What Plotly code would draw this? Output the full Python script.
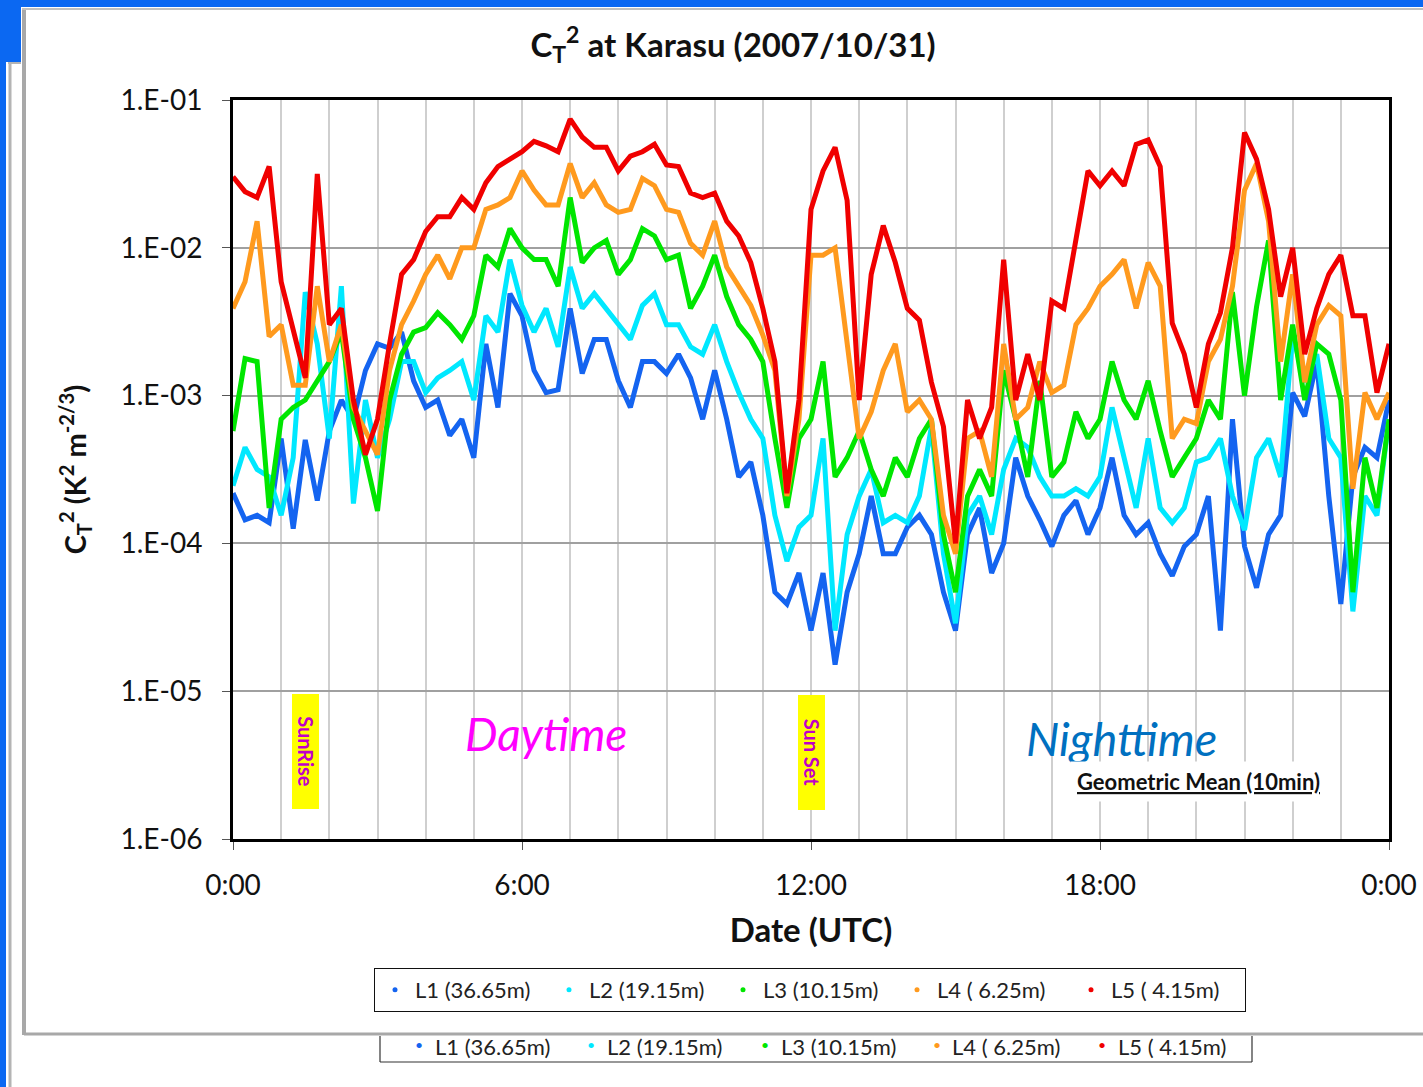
import plotly.graph_objects as go

# ---------------- data ----------------
# time of day in hours (UTC), 15-minute steps
hours = [i * 0.25 for i in range(97)]

# log10(Ct^2) for each sensor level
L1_log = [-3.66, -3.84, -3.81, -3.86, -3.29, -3.90, -3.30, -3.71, -3.24, -3.03, -3.16, -2.83, -2.65,
          -2.68, -2.57, -2.90, -3.08, -3.03, -3.27, -3.16, -3.42, -2.65, -3.08, -2.31, -2.46, -2.83,
          -2.98, -2.96, -2.41, -2.85, -2.62, -2.62, -2.90, -3.08, -2.77, -2.77, -2.85, -2.72, -2.88,
          -3.16, -2.83, -3.16, -3.55, -3.45, -3.81, -4.33, -4.41, -4.20, -4.59, -4.20, -4.82, -4.33,
          -4.07, -3.68, -4.07, -4.07, -3.89, -3.81, -3.94, -4.33, -4.59, -3.94, -3.76, -4.20, -4.00,
          -3.42, -3.68, -3.84, -4.02, -3.81, -3.71, -3.94, -3.76, -3.42, -3.81, -3.94, -3.86, -4.07,
          -4.22, -4.02, -3.94, -3.68, -4.59, -3.16, -4.02, -4.30, -3.94, -3.81, -2.98, -3.14, -2.77,
          -3.68, -4.41, -3.55, -3.35, -3.42, -3.03]
L2_log = [-3.61, -3.35, -3.50, -3.55, -3.81, -3.42, -2.30, -2.65, -3.29, -2.26, -3.73, -3.03, -3.42,
          -3.16, -2.77, -2.77, -2.98, -2.88, -2.83, -2.77, -3.03, -2.46, -2.57, -2.08, -2.39, -2.57,
          -2.41, -2.67, -2.13, -2.41, -2.31, -2.41, -2.52, -2.62, -2.39, -2.31, -2.52, -2.52, -2.67,
          -2.72, -2.52, -2.77, -2.98, -3.16, -3.29, -3.81, -4.12, -3.89, -3.81, -3.29, -4.59, -3.94,
          -3.68, -3.50, -3.86, -3.81, -3.86, -3.68, -3.21, -4.07, -4.54, -3.81, -3.68, -3.94, -3.50,
          -3.29, -3.35, -3.55, -3.68, -3.68, -3.63, -3.68, -3.55, -3.08, -3.42, -3.76, -3.29, -3.76,
          -3.86, -3.76, -3.45, -3.42, -3.29, -3.68, -3.91, -3.42, -3.29, -3.55, -2.59, -2.91, -2.72,
          -3.29, -3.42, -4.46, -3.68, -3.81, -3.16]
L3_log = [-3.24, -2.75, -2.77, -3.76, -3.16, -3.08, -3.03, -2.90, -2.77, -2.57, -3.16, -3.42, -3.78,
          -3.03, -2.72, -2.57, -2.54, -2.44, -2.52, -2.62, -2.46, -2.05, -2.13, -1.87, -2.00, -2.08,
          -2.08, -2.26, -1.66, -2.10, -2.00, -1.95, -2.18, -2.08, -1.87, -1.92, -2.08, -2.05, -2.41,
          -2.26, -2.05, -2.33, -2.52, -2.62, -2.77, -3.29, -3.76, -3.29, -3.16, -2.77, -3.55, -3.42,
          -3.24, -3.50, -3.68, -3.42, -3.55, -3.29, -3.16, -3.94, -4.33, -3.68, -3.50, -3.68, -2.83,
          -3.16, -3.55, -2.90, -3.55, -3.45, -3.11, -3.29, -3.16, -2.77, -3.03, -3.16, -2.90, -3.24,
          -3.55, -3.42, -3.29, -3.03, -3.16, -2.30, -3.00, -2.40, -1.95, -3.03, -2.52, -3.03, -2.65,
          -2.72, -3.03, -4.33, -3.42, -3.76, -3.16]
L4_log = [-2.41, -2.23, -1.82, -2.60, -2.52, -2.93, -2.93, -2.26, -2.77, -2.52, -3.08, -3.24, -3.40,
          -2.83, -2.52, -2.36, -2.18, -2.05, -2.21, -2.00, -2.00, -1.74, -1.71, -1.66, -1.48, -1.61,
          -1.71, -1.71, -1.43, -1.66, -1.56, -1.71, -1.76, -1.74, -1.53, -1.58, -1.74, -1.76, -1.97,
          -2.05, -1.82, -2.13, -2.26, -2.39, -2.59, -2.83, -3.68, -3.16, -2.05, -2.05, -2.00, -2.65,
          -3.29, -3.11, -2.83, -2.65, -3.11, -3.03, -3.16, -3.81, -4.07, -3.29, -3.24, -3.55, -2.65,
          -3.16, -3.08, -2.77, -2.98, -2.93, -2.52, -2.41, -2.26, -2.18, -2.08, -2.41, -2.10, -2.26,
          -3.29, -3.16, -3.19, -2.77, -2.62, -2.26, -1.61, -1.43, -1.82, -2.77, -2.18, -2.91, -2.52,
          -2.39, -2.46, -3.63, -2.98, -3.16, -2.98]
L5_log = [-1.52, -1.62, -1.66, -1.45, -2.23, -2.57, -2.88, -1.50, -2.52, -2.41, -3.03, -3.40, -3.16,
          -2.65, -2.18, -2.08, -1.89, -1.79, -1.79, -1.66, -1.74, -1.56, -1.45, -1.40, -1.35, -1.28,
          -1.31, -1.35, -1.13, -1.25, -1.32, -1.32, -1.48, -1.38, -1.35, -1.30, -1.44, -1.45, -1.63,
          -1.66, -1.63, -1.82, -1.92, -2.10, -2.41, -2.77, -3.66, -3.03, -1.74, -1.48, -1.32, -1.68,
          -3.03, -2.18, -1.85, -2.10, -2.41, -2.49, -2.91, -3.21, -4.00, -3.03, -3.29, -3.08, -2.08,
          -3.03, -2.72, -3.03, -2.36, -2.41, -1.95, -1.48, -1.58, -1.48, -1.58, -1.30, -1.27, -1.45,
          -2.51, -2.72, -3.08, -2.65, -2.44, -2.00, -1.22, -1.40, -1.74, -2.33, -2.00, -2.72, -2.41,
          -2.18, -2.05, -2.46, -2.46, -2.98, -2.65]

series_names = ["L1 (36.65m)", "L2 (19.15m)", "L3 (10.15m)", "L4 ( 6.25m)", "L5 ( 4.15m)"]
series_logs = [L1_log, L2_log, L3_log, L4_log, L5_log]
series_colors = ["#1464F0", "#00E8FF", "#00E600", "#FF9A1E", "#F00000"]

x_tickvals = [0, 6, 12, 18, 24]
x_ticktext = ["0:00", "6:00", "12:00", "18:00", "0:00"]
y_tickvals = [1e-6, 1e-5, 1e-4, 1e-3, 1e-2, 1e-1]
y_ticktext = ["1.E-06", "1.E-05", "1.E-04", "1.E-03", "1.E-02", "1.E-01"]

# ---------------- layout helpers (pixel -> paper) ----------------
W, H = 1423, 1087
L, R, T, B = 233, 34, 100, 248
PW, PH = W - L - R, H - T - B


def px(x):
    return (x - L) / PW


def py(y):
    return (H - B - y) / PH


FONT = "Lato, Carlito, Calibri, 'Open Sans', sans-serif"

fig = go.Figure()

for name, logs, col in zip(series_names, series_logs, series_colors):
    fig.add_trace(go.Scatter(
        x=hours, y=[10 ** v for v in logs], mode="lines", name=name,
        line=dict(color=col, width=5), showlegend=False, hoverinfo="skip"))

# legend entries shown as small dots
for name, col in zip(series_names, series_colors):
    fig.add_trace(go.Scatter(
        x=[None], y=[None], mode="markers", name=name,
        marker=dict(color=col, size=5), showlegend=True))

shapes = []
blue = "#0B68F2"
# window frame (screenshot borders)
shapes.append(dict(type="rect", xref="paper", yref="paper", x0=px(0), x1=px(W), y0=py(0), y1=py(7),
                   fillcolor=blue, line=dict(width=0), layer="above"))
shapes.append(dict(type="rect", xref="paper", yref="paper", x0=px(0), x1=px(21), y0=py(0), y1=py(62),
                   fillcolor=blue, line=dict(width=0), layer="above"))
shapes.append(dict(type="rect", xref="paper", yref="paper", x0=px(0), x1=px(6), y0=py(0), y1=py(H),
                   fillcolor=blue, line=dict(width=0), layer="above"))
shapes.append(dict(type="line", xref="paper", yref="paper", x0=px(10), x1=px(10), y0=py(62), y1=py(H),
                   line=dict(color="#b4b4b4", width=3), layer="above"))
shapes.append(dict(type="line", xref="paper", yref="paper", x0=px(8), x1=px(21), y0=py(63), y1=py(63),
                   line=dict(color="#b4b4b4", width=2), layer="above"))
shapes.append(dict(type="line", xref="paper", yref="paper", x0=px(24), x1=px(24), y0=py(9), y1=py(1035),
                   line=dict(color="#a8a8a8", width=4), layer="above"))
shapes.append(dict(type="line", xref="paper", yref="paper", x0=px(22), x1=px(W), y0=py(9), y1=py(9),
                   line=dict(color="#c0c0c0", width=2), layer="above"))
shapes.append(dict(type="line", xref="paper", yref="paper", x0=px(24), x1=px(W), y0=py(1034), y1=py(1034),
                   line=dict(color="#a8a8a8", width=3), layer="above"))
# second (partly hidden) legend box below
for (xa, ya, xb, yb) in [(380, 1036, 380, 1062), (1252, 1036, 1252, 1062), (380, 1062, 1252, 1062)]:
    shapes.append(dict(type="line", xref="paper", yref="paper", x0=px(xa), x1=px(xb), y0=py(ya), y1=py(yb),
                       line=dict(color="#333333", width=1.2), layer="above"))

annotations = []
# Sunrise / Sunset tags
for label, xc, yc in [("SunRise", 305.5, 751), ("Sun Set", 811.5, 752)]:
    annotations.append(dict(xref="paper", yref="paper", x=px(xc), y=py(yc), text="<b>" + label + "</b>",
                            showarrow=False, textangle=90, width=114, height=26,
                            bgcolor="#FFFF00", borderpad=0,
                            font=dict(family=FONT, size=20, color="#C000C8"),
                            xanchor="center", yanchor="middle"))
annotations.append(dict(xref="paper", yref="paper", x=px(546), y=py(733), text="<i>Daytime</i>",
                        showarrow=False, font=dict(family=FONT, size=46, color="#FF00FF"),
                        xanchor="center", yanchor="middle"))
annotations.append(dict(xref="paper", yref="paper", x=px(1121), y=py(738), text="<i>Nighttime</i>",
                        showarrow=False, font=dict(family=FONT, size=47, color="#0070C0"),
                        xanchor="center", yanchor="middle"))
annotations.append(dict(xref="paper", yref="paper", x=px(1198), y=py(781),
                        text="<b><u>Geometric Mean (10min)</u></b>",
                        showarrow=False, bgcolor="white", borderpad=6,
                        font=dict(family=FONT, size=22, color="#111111"),
                        xanchor="center", yanchor="middle"))
# duplicate legend texts (screenshot artifact)
dup_dot_x = [419, 591, 765, 937, 1102]
dup_txt_x = [433, 605, 779, 950, 1116]
for name, col, xd, xt in zip(series_names, series_colors, dup_dot_x, dup_txt_x):
    annotations.append(dict(xref="paper", yref="paper", x=px(xd), y=py(1044), text="•",
                            showarrow=False, font=dict(family=FONT, size=14, color=col),
                            xanchor="center", yanchor="middle"))
    annotations.append(dict(xref="paper", yref="paper", x=px(xt), y=py(1046), text=name,
                            showarrow=False, font=dict(family=FONT, size=22, color="#222222"),
                            xanchor="left", yanchor="middle"))

fig.update_layout(
    width=W, height=H, autosize=False,
    margin=dict(l=L, r=R, t=T, b=B, autoexpand=False),
    paper_bgcolor="white", plot_bgcolor="white",
    font=dict(family=FONT, color="#111111"),
    title=dict(text="<b>C<sub>T</sub><sup>2</sup> at Karasu (2007/10/31)</b>",
               font=dict(family=FONT, size=33, color="#111111"),
               xref="paper", x=px(733), xanchor="center",
               yref="container", y=1 - 45 / H, yanchor="middle"),
    xaxis=dict(range=[0, 24], tickvals=x_tickvals, ticktext=x_ticktext, automargin=False,
               showgrid=True, gridcolor="#cfcfcf", gridwidth=1.5,
               minor=dict(dtick=1, tick0=0, showgrid=True, gridcolor="#cfcfcf", gridwidth=1.5),
               ticks="outside", ticklen=8, tickcolor="#555555", tickwidth=1,
               ticklabelstandoff=11,
               tickfont=dict(family=FONT, size=28, color="#111111"),
               showline=True, linecolor="black", linewidth=3, mirror=True, zeroline=False,
               title=dict(text="<b>Date (UTC)</b>", font=dict(family=FONT, size=33, color="#111111"),
                          standoff=20)),
    yaxis=dict(type="log", range=[-6, -1], tickvals=y_tickvals, ticktext=y_ticktext, automargin=False,
               showgrid=True, gridcolor="#a0a0a0", gridwidth=1.5,
               ticks="outside", ticklen=8, tickcolor="#555555", tickwidth=1,
               ticklabelstandoff=14,
               tickfont=dict(family=FONT, size=28, color="#111111"),
               showline=True, linecolor="black", linewidth=3, mirror=True, zeroline=False,
               title=dict(text="<b>C<sub>T</sub><sup>2</sup> (K<sup>2</sup> m<sup>-2/3</sup>)</b>",
                          font=dict(family=FONT, size=29, color="#111111"), standoff=26)),
    legend=dict(orientation="h", x=px(810), xanchor="center", y=py(968), yanchor="top",
                bordercolor="#111111", borderwidth=1, bgcolor="white",
                font=dict(family=FONT, size=22, color="#222222"),
                entrywidth=129, entrywidthmode="pixels", itemwidth=30),
    shapes=shapes,
    annotations=annotations,
)

fig.write_html("out.html", config={"displayModeBar": False})
